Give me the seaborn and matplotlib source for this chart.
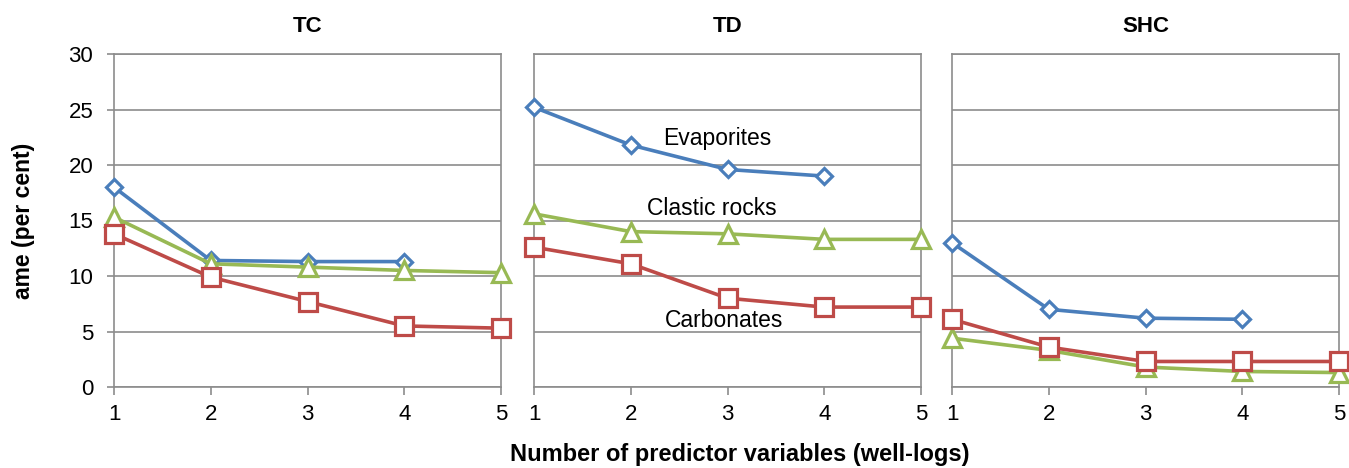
import matplotlib
matplotlib.use("Agg")
import matplotlib.pyplot as plt
import seaborn as sns
import pandas as pd

# Absolute mean error (per cent) against number of well-log predictors
predictors = [1, 2, 3, 4, 5]
panels = ["TC", "TD", "SHC"]

tc_evaporites = [18.0, 11.4, 11.3, 11.3]
tc_clastic = [15.3, 11.1, 10.8, 10.5, 10.3]
tc_carbonates = [13.8, 9.9, 7.7, 5.5, 5.3]

td_evaporites = [25.2, 21.8, 19.6, 19.0]
td_clastic = [15.6, 14.0, 13.8, 13.3, 13.3]
td_carbonates = [12.6, 11.1, 8.0, 7.2, 7.2]

shc_evaporites = [13.0, 7.0, 6.2, 6.1]
shc_clastic = [4.4, 3.3, 1.8, 1.4, 1.3]
shc_carbonates = [6.1, 3.6, 2.3, 2.3, 2.3]

rock_names = ["Evaporites", "Clastic rocks", "Carbonates"]
y_ticks = [0, 5, 10, 15, 20, 25, 30]

series = {
    "TC": [tc_evaporites, tc_clastic, tc_carbonates],
    "TD": [td_evaporites, td_clastic, td_carbonates],
    "SHC": [shc_evaporites, shc_clastic, shc_carbonates],
}

styles = {
    "Evaporites": dict(color="#4A7EBB", marker="D", markersize=8.5),
    "Clastic rocks": dict(color="#98B954", marker="^", markersize=13.5),
    "Carbonates": dict(color="#BE4B48", marker="s", markersize=12.5),
}

sns.set_theme(style="white")
plt.rcParams["font.family"] = ["Liberation Sans", "DejaVu Sans"]
plt.rcParams["text.color"] = "black"

W, H = 1349, 468
fig = plt.figure(figsize=(W / 100, H / 100), dpi=100)

lefts = [114, 534, 952]
width_px = 387
top_px, bottom_px = 54, 387
grid_col = "#8C8C8C"
fs = 16

axes = []
for i, name in enumerate(panels):
    ax = fig.add_axes([lefts[i] / W, 1 - bottom_px / H,
                       width_px / W, (bottom_px - top_px) / H])
    axes.append(ax)
    ax.set_xlim(1, 5)
    ax.set_ylim(0, 30)
    ax.set_yticks(y_ticks)
    ax.set_xticks(predictors)
    ax.yaxis.grid(True, color=grid_col, linewidth=1.2)
    ax.set_axisbelow(True)
    for sp in ax.spines.values():
        sp.set_color(grid_col)
        sp.set_linewidth(1.2)
    ax.tick_params(axis="x", which="both", direction="out", length=6,
                   width=1.2, color=grid_col, labelsize=fs, pad=6,
                   labelcolor="black", bottom=True)
    if i == 0:
        ax.tick_params(axis="y", direction="out", length=5, width=1.2,
                       color=grid_col, labelsize=fs, pad=10,
                       labelcolor="black", left=True)
    else:
        ax.tick_params(axis="y", left=False, labelleft=False)

    for rock, values in zip(rock_names, series[name]):
        df = pd.DataFrame({"n": predictors[:len(values)], "ame": values})
        st = styles[rock]
        sns.lineplot(data=df, x="n", y="ame", ax=ax, color=st["color"],
                     marker=st["marker"], markersize=st["markersize"],
                     markerfacecolor="white", markeredgecolor=st["color"],
                     markeredgewidth=2.3, linewidth=2.6, clip_on=False,
                     zorder=3)
    ax.set_xlabel("")
    ax.set_ylabel("")
    ax.set_title(name, fontsize=fs, fontweight="bold", pad=16,
                 color="black")

axes[0].set_ylabel("ame (per cent)", fontsize=16.5, fontweight="bold",
                   labelpad=24, color="black")

# Series labels inside the TD panel
td = axes[1]
td.text(2.89, 22.4, "Evaporites", fontsize=16.5, ha="center", va="center")
td.text(2.84, 16.1, "Clastic rocks", fontsize=16.5, ha="center", va="center")
td.text(2.96, 6.0, "Carbonates", fontsize=16.5, ha="center", va="center")

fig.text(740 / W, 1 - 455 / H, "Number of predictor variables (well-logs)",
         fontsize=17, fontweight="bold", ha="center", va="center")

fig.savefig("out.png", dpi=100)
